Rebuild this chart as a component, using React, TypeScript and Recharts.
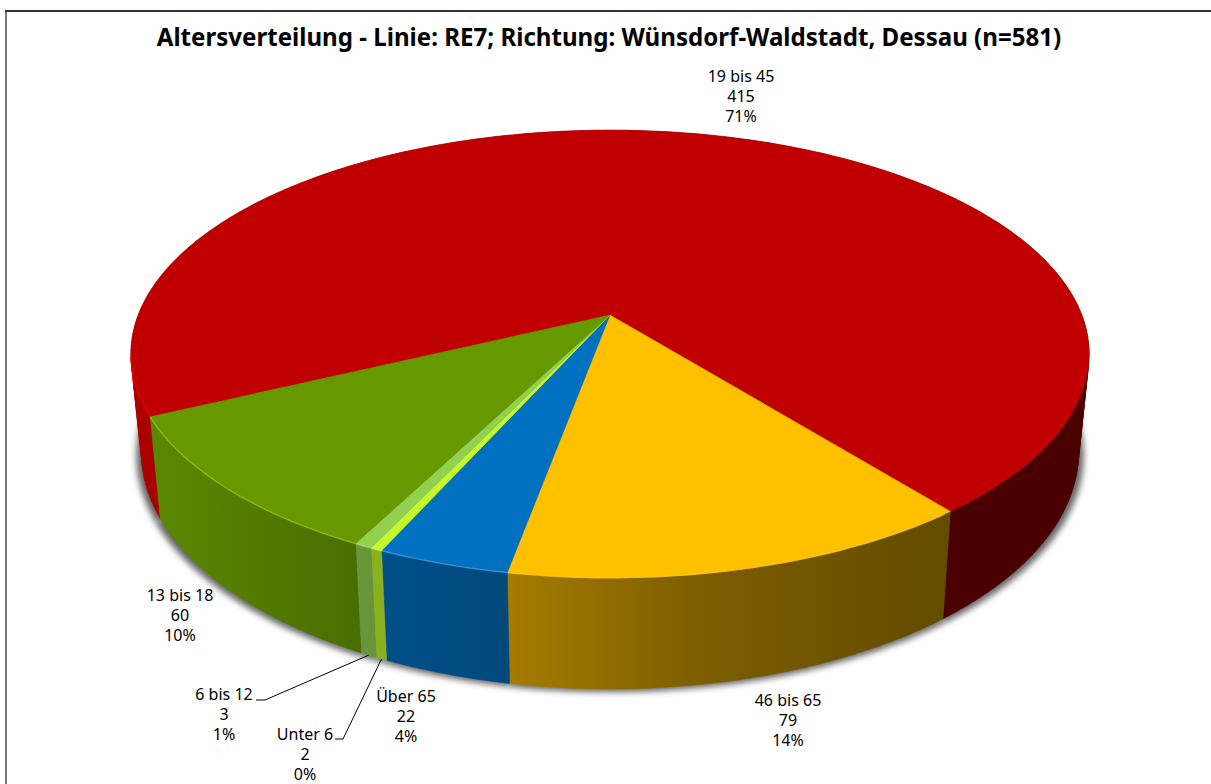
import React from "react";
import { PieChart, Pie } from "recharts";

const categories = ["19 bis 45", "46 bis 65", "Über 65", "Unter 6", "6 bis 12", "13 bis 18"];
const counts = [415, 79, 22, 2, 3, 60];
const topColors = ["#C00000", "#FFC000", "#0070C0", "#C4F82C", "#92D050", "#669900"];
const rimColors = ["#EE0000", "#FFC81E", "#3C9BE0", "#D0FA50", "#A8E070", "#94C414"];

const pieData = categories.map((name, i) => ({ name, value: counts[i], color: topColors[i], rim: rimColors[i] }));

// hand placed, like in the original chart: label centre x, first line baseline
const labelSpots: Record<string, { x: number; y: number; lead?: { x1: number; x2: number; y: number } }> = {
  "19 bis 45": { x: 741, y: 82 },
  "46 bis 65": { x: 788, y: 706 },
  "Über 65": { x: 406, y: 702 },
  "Unter 6": { x: 305, y: 740, lead: { x1: 335, x2: 343, y: 739 } },
  "6 bis 12": { x: 224, y: 700, lead: { x1: 256, x2: 265, y: 700 } },
  "13 bis 18": { x: 180, y: 601 },
};

// perspective of the disc
const TILT = 0.174;
const SQUASH = 0.46;
const BASE_SCALE = 0.978;
const SHADOW_SPREAD = 1.011;

type Pt = { x: number; y: number };

const rimPoint = (cx: number, cy: number, r: number, angle: number): Pt => {
  const rad = (angle * Math.PI) / 180;
  const u = Math.cos(rad);
  const v = -Math.sin(rad);
  const w = 1 - TILT * v;
  return { x: cx + (r * u) / w, y: cy + (r * SQUASH * v) / w };
};

const basePoint = (cx: number, cy: number, r: number, angle: number): Pt => {
  const p = rimPoint(cx, cy, r, angle);
  return { x: cx + (p.x - cx) * BASE_SCALE, y: p.y + 102 + 0.057 * (p.y - 415) };
};

const arcAngles = (start: number, end: number) => {
  const steps = Math.max(2, Math.ceil(Math.abs(end - start)));
  return Array.from({ length: steps + 1 }, (_, i) => start + ((end - start) * i) / steps);
};

const toPath = (pts: Pt[]) =>
  pts.map((p, i) => `${i ? "L" : "M"}${p.x.toFixed(1)} ${p.y.toFixed(1)}`).join(" ");

const shadeStops = [
  { x: 0, k: 0.9 },
  { x: 0.03, k: 0.88 },
  { x: 0.08, k: 0.84 },
  { x: 0.24, k: 0.72 },
  { x: 0.39, k: 0.65 },
  { x: 0.59, k: 0.49 },
  { x: 0.85, k: 0.39 },
  { x: 1, k: 0.38 },
];

const darken = (hex: string, k: number) => {
  const n = parseInt(hex.slice(1), 16);
  const c = [(n >> 16) & 255, (n >> 8) & 255, n & 255].map((v) => Math.round(v * k));
  return `rgb(${c.join(",")})`;
};

// one quad per step, all wound the same way so the fill never cancels out
const wallPath = (props: any) => {
  const { cx, cy, outerRadius, startAngle, endAngle } = props;
  const angles = arcAngles(startAngle, endAngle);
  const quads: string[] = [];
  for (let i = 0; i < angles.length - 1; i++) {
    const q = [
      rimPoint(cx, cy, outerRadius, angles[i]),
      rimPoint(cx, cy, outerRadius, angles[i + 1]),
      basePoint(cx, cy, outerRadius, angles[i + 1]),
      basePoint(cx, cy, outerRadius, angles[i]),
    ];
    const area = q.reduce((sum, p, j) => {
      const n = q[(j + 1) % 4];
      return sum + p.x * n.y - n.x * p.y;
    }, 0);
    quads.push(toPath(area < 0 ? q.reverse() : q) + " Z");
  }
  return quads.join(" ");
};

const ShadowShape = (props: any) => {
  const { cx, cy, outerRadius, startAngle, endAngle } = props;
  const pts = arcAngles(startAngle, endAngle)
    .map((a) => basePoint(cx, cy, outerRadius, a))
    .map((p) => ({ x: cx + (p.x - cx) * SHADOW_SPREAD, y: p.y + 3 }));
  const hub = basePoint(cx, cy, 0, 0);
  return <path d={toPath([hub, ...pts]) + " Z"} fill="#000" fillOpacity={0.6} filter="url(#pieShadow)" />;
};

const WallShape = (props: any) => {
  const color = props.payload?.color ?? props.color;
  const id = `wall-${props.index}`;
  return (
    <g>
      <linearGradient id={id} gradientUnits="userSpaceOnUse" x1={131} x2={1089} y1={0} y2={0}>
        {shadeStops.map((s) => (
          <stop key={s.x} offset={s.x} stopColor={darken(color, s.k)} />
        ))}
      </linearGradient>
      <path d={wallPath(props)} fill={`url(#${id})`} stroke={`url(#${id})`} strokeWidth={0.4} />
    </g>
  );
};

const TopShape = (props: any) => {
  const { cx, cy, outerRadius, startAngle, endAngle } = props;
  const color = props.payload?.color ?? props.color;
  const rim = props.payload?.rim ?? props.rim;
  const angles = arcAngles(startAngle, endAngle);
  const arc = angles.map((a) => rimPoint(cx, cy, outerRadius, a));
  // the highlight only runs along the lit front of the disc, the right side stays dark
  const runs: Pt[][] = [];
  let run: Pt[] = [];
  angles.forEach((a, i) => {
    if (Math.sin((a * Math.PI) / 180) < -TILT && arc[i].x < 950) {
      run.push(arc[i]);
    } else if (run.length) {
      runs.push(run);
      run = [];
    }
  });
  if (run.length) runs.push(run);
  return (
    <g>
      <path d={toPath([{ x: cx, y: cy }, ...arc]) + " Z"} fill={color} stroke={color} strokeWidth={0.4} />
      {runs.map((r, i) => (
        <path key={i} d={toPath(r)} fill="none" stroke={rim} strokeWidth={1.4} strokeOpacity={0.8} />
      ))}
    </g>
  );
};

const renderLabel = (props: any) => {
  const { cx, cy, outerRadius, midAngle, name, value, percent } = props;
  const spot = labelSpots[name];
  if (!spot) return null;
  const end = basePoint(cx, cy, outerRadius, midAngle);
  const lines = [name, String(value), `${Math.round(percent * 100)}%`];
  return (
    <g key={name}>
      {spot.lead && (
        <polyline
          points={`${spot.lead.x1},${spot.lead.y} ${spot.lead.x2},${spot.lead.y} ${end.x.toFixed(1)},${end.y.toFixed(1)}`}
          fill="none"
          stroke="#000"
          strokeWidth={1}
        />
      )}
      <text x={spot.x} y={spot.y} textAnchor="middle" fontSize={16} fontFamily="'Noto Sans', sans-serif" fill="#000">
        {lines.map((line, i) => (
          <tspan key={i} x={spot.x} dy={i ? 20 : 0}>
            {line}
          </tspan>
        ))}
      </text>
    </g>
  );
};

const pieProps = {
  data: pieData,
  dataKey: "value",
  nameKey: "name",
  cx: 610,
  cy: 315,
  innerRadius: 0,
  outerRadius: 471.8,
  startAngle: 205.7,
  endAngle: -154.3,
  isAnimationActive: false,
  legendType: "none" as const,
};

const App = () => (
  <div style={{ position: "fixed", left: 0, top: 0, width: 1211, height: 784, background: "#fff", overflow: "hidden" }}>
    <div style={{ position: "absolute", left: 5, top: 10, width: 2, height: 774, background: "#777" }} />
    <div style={{ position: "absolute", left: 5, top: 10, width: 1206, height: 1.5, background: "#333" }} />
    <PieChart width={1211} height={784} margin={{ top: 0, right: 0, bottom: 0, left: 0 }}>
      <defs>
        <filter id="pieShadow" x="-20%" y="-20%" width="140%" height="140%">
          <feGaussianBlur stdDeviation={3} />
        </filter>
      </defs>
      <text x={609} y={46} textAnchor="middle" fontSize={24.1} fontWeight={700} fontFamily="'Noto Sans', sans-serif" fill="#000">
        Altersverteilung - Linie: RE7; Richtung: Wünsdorf-Waldstadt, Dessau (n=581)
      </text>
      <Pie {...pieProps} shape={ShadowShape} inactiveShape={ShadowShape} label={false} labelLine={false} />
      <Pie {...pieProps} shape={WallShape} inactiveShape={WallShape} label={false} labelLine={false} />
      <Pie {...pieProps} shape={TopShape} inactiveShape={TopShape} label={renderLabel} labelLine={false} />
    </PieChart>
  </div>
);

export default App;
